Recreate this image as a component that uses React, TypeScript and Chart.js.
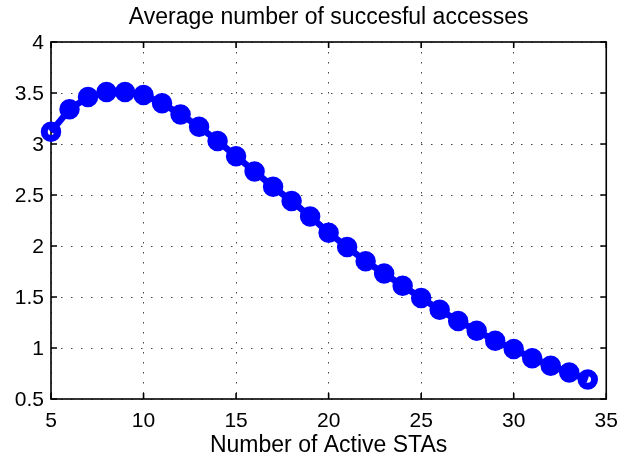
import React, { useEffect, useRef } from "react";
import { Chart, registerables } from "chart.js";

Chart.register(...registerables);

const titleText = "Average number of succesful accesses";
const xLabel = "Number of Active STAs";

const xValues = [5, 6, 7, 8, 9, 10, 11, 12, 13, 14, 15, 16, 17, 18, 19, 20, 21, 22, 23, 24, 25, 26, 27, 28, 29, 30, 31, 32, 33, 34];
const yValues = [3.12, 3.34, 3.46, 3.51, 3.51, 3.48, 3.4, 3.29, 3.17, 3.03, 2.88, 2.73, 2.58, 2.44, 2.29, 2.13, 1.99, 1.85, 1.73, 1.61, 1.49, 1.375, 1.265, 1.17, 1.07, 0.99, 0.9, 0.825, 0.76, 0.69];

const xTicks = [5, 10, 15, 20, 25, 30, 35];
const yTicks = [0.5, 1, 1.5, 2, 2.5, 3, 3.5, 4];

const FONT = "'Liberation Sans', Arial, Helvetica, sans-serif";
const BLUE = "#0000ff";

const framePlugin = {
  id: "frame",
  beforeDatasetsDraw(chart: any) {
    const { ctx, chartArea, scales } = chart;
    const { left, right, top, bottom } = chartArea;
    const x = scales.x;
    const y = scales.y;
    ctx.save();
    ctx.strokeStyle = "#000";
    ctx.lineWidth = 1.6;
    ctx.strokeRect(left, top, right - left, bottom - top);
    const L = 6;
    ctx.beginPath();
    xTicks.forEach((v) => {
      const px = x.getPixelForValue(v);
      ctx.moveTo(px, bottom);
      ctx.lineTo(px, bottom - L);
      ctx.moveTo(px, top);
      ctx.lineTo(px, top + L);
    });
    yTicks.forEach((v) => {
      const py = y.getPixelForValue(v);
      ctx.moveTo(left, py);
      ctx.lineTo(left + L, py);
      ctx.moveTo(right, py);
      ctx.lineTo(right - L, py);
    });
    ctx.stroke();
    ctx.restore();
  },
};

export default function App() {
  const ref = useRef<HTMLCanvasElement | null>(null);

  useEffect(() => {
    if (!ref.current) return;
    const last = xValues.length - 1;
    const chart = new Chart(ref.current, {
      type: "line",
      data: {
        datasets: [
          {
            data: xValues.map((xv, i) => ({ x: xv, y: yValues[i] })),
            borderColor: BLUE,
            borderWidth: 6.5,
            pointRadius: 6.75,
            pointBorderWidth: 7,
            pointBackgroundColor: (c: any) =>
              c.dataIndex === 0 || c.dataIndex === last ? "rgba(0,0,0,0)" : BLUE,
            pointBorderColor: BLUE,
            pointHoverRadius: 6.75,
            tension: 0,
            clip: false as any,
          },
        ],
      },
      options: {
        animation: false,
        responsive: false,
        events: [],
        layout: { padding: { left: 0, right: 12, top: 0, bottom: 0 } },
        plugins: {
          legend: { display: false },
          tooltip: { enabled: false },
          title: {
            display: true,
            text: titleText,
            fullSize: false,
            color: "#000",
            font: { family: FONT, size: 23, weight: "normal", lineHeight: 1.2 },
            padding: { top: 4, bottom: 10.4 },
          },
        },
        scales: {
          x: {
            type: "linear",
            min: 5,
            max: 35,
            afterBuildTicks: (s: any) => {
              s.ticks = xTicks.map((v) => ({ value: v }));
            },
            afterFit: (s: any) => {
              s.height = 62;
              s.paddingLeft = 0;
              s.paddingRight = 0;
            },
            ticks: {
              color: "#000",
              font: { family: FONT, size: 21 },
              padding: 9.5,
              maxRotation: 0,
              autoSkip: false,
              callback: (v: any) => String(v),
            },
            grid: { color: "#444", lineWidth: 1, drawTicks: false },
            border: { display: false, dash: [1.5, 8.5] },
            title: {
              display: true,
              text: xLabel,
              color: "#000",
              font: { family: FONT, size: 23, lineHeight: 1.2 },
              padding: { top: 0, bottom: 1.3 },
            },
          },
          y: {
            type: "linear",
            min: 0.5,
            max: 4,
            afterBuildTicks: (s: any) => {
              s.ticks = yTicks.map((v) => ({ value: v }));
            },
            afterFit: (s: any) => {
              s.width = 51;
            },
            ticks: {
              color: "#000",
              font: { family: FONT, size: 21 },
              padding: 7,
              labelOffset: 1,
              autoSkip: false,
              callback: (v: any) => String(v),
            },
            grid: { color: "#444", lineWidth: 1, drawTicks: false },
            border: { display: false, dash: [1.5, 8.5] },
          },
        },
      },
      plugins: [framePlugin],
    });
    return () => chart.destroy();
  }, []);

  return (
    <div style={{ position: "absolute", left: 0, top: 0, width: 620, height: 461, background: "#fff" }}>
      <canvas ref={ref} width={620} height={461} style={{ width: 620, height: 461, display: "block" }} />
    </div>
  );
}
